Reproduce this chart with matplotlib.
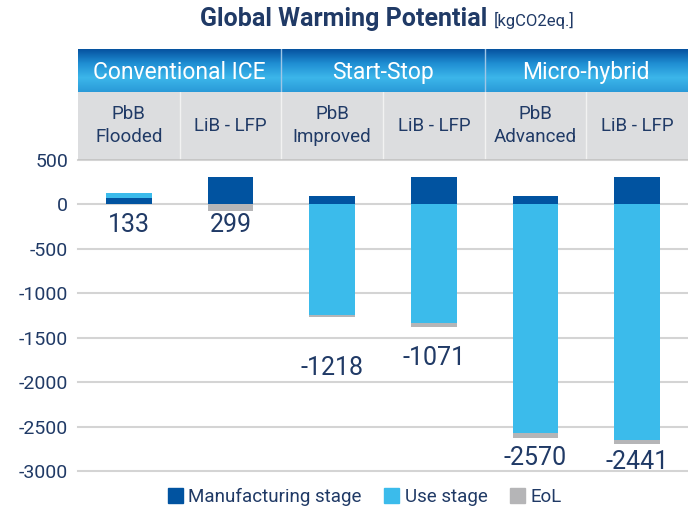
import numpy as np
from matplotlib import pyplot as plt
from matplotlib.colors import LinearSegmentedColormap
from matplotlib.patches import Patch

# donnees
groupes = ["Conventional ICE", "Start-Stop", "Micro-hybrid"]
batteries = ["PbB\nFlooded", "LiB - LFP", "PbB\nImproved", "LiB - LFP", "PbB\nAdvanced", "LiB - LFP"]
fabrication = [64, 306, 95, 306, 95, 306]
utilisation = [63, 0, -1240, -1334, -2575, -2650]
fin_de_vie = [-2, -75, -23, -41, -50, -45]
totaux = ["133", "299", "-1218", "-1071", "-2570", "-2441"]
y_etiquettes = [-236, -236, -1840, -1728, -2848, -2893]
graduations = [500, 0, -500, -1000, -1500, -2000, -2500, -3000]

c_fab = "#0153a0"
c_use = "#3bbbeb"
c_eol = "#b5b5b7"
navy = "#203a66"
plt.rcParams["font.family"] = ["Roboto", "DejaVu Sans"]

W, H = 688, 509
fig = plt.figure(figsize=(W / 100, H / 100), dpi=100)

gauche = 78 / W
haut_axes = 1 - 159.5 / H
bas_axes = 1 - 471.3 / H
ax = fig.add_axes([gauche, bas_axes, 1 - gauche, haut_axes - bas_axes])

x = np.arange(len(batteries))
fab = np.array(fabrication)
use = np.array(utilisation)
eol = np.array(fin_de_vie)

# empilement : positifs au dessus de zero, negatifs en dessous
bas_pos = np.zeros(len(x))
bas_neg = np.zeros(len(x))
for valeurs, couleur in [(fab, c_fab), (use, c_use), (eol, c_eol)]:
    bas = np.where(valeurs >= 0, bas_pos, bas_neg)
    ax.bar(x, valeurs, bottom=bas, width=0.45, color=couleur, zorder=3)
    bas_pos = bas_pos + np.where(valeurs >= 0, valeurs, 0)
    bas_neg = bas_neg + np.where(valeurs < 0, valeurs, 0)

for g in graduations:
    ax.axhline(g, color="#d4d4d4", lw=1.5, zorder=1, clip_on=False)

for i, t in enumerate(totaux):
    ax.text(x[i], y_etiquettes[i], t, ha="center", va="center", fontsize=18, color=navy)

ax.set_xlim(-0.5, 5.5)
ax.set_ylim(-3000, 500)
ax.set_yticks(graduations)
ax.set_yticklabels([str(g) for g in graduations], fontsize=14, color=navy)
ax.tick_params(axis="y", length=0, pad=7)
ax.set_xticks([])
for s in ax.spines.values():
    s.set_visible(False)

# en-tete : bandeau bleu + bandeau gris
haut_bleu = 1 - 49 / H
bas_bleu = 1 - 92 / H
axh = fig.add_axes([gauche, bas_bleu, 1 - gauche, haut_bleu - bas_bleu])
degrade = LinearSegmentedColormap.from_list("d", ["#0652a0", "#1f8ed3", "#3cb6ea", "#2a9ad8"])
axh.imshow(np.linspace(0, 1, 100).reshape(-1, 1), aspect="auto", cmap=degrade,
           extent=[0, 3, 0, 1], origin="upper")
for k in [1, 2]:
    axh.axvline(k, color="#9fc6e6", lw=1)
for k, nom in enumerate(groupes):
    axh.text(k + 0.5, 0.46, nom, ha="center", va="center", color="white", fontsize=16.5)
axh.set_xlim(0, 3)
axh.set_ylim(0, 1)
axh.axis("off")

axg = fig.add_axes([gauche, haut_axes, 1 - gauche, bas_bleu - haut_axes])
axg.set_facecolor("#dcdddf")
for k in range(1, 6):
    axg.axvline(k, color="#f2f2f2", lw=1)
axg.axhline(0, color="#c4c4c4", lw=2)
for k, nom in enumerate(batteries):
    axg.text(k + 0.5, 0.5, nom, ha="center", va="center", color=navy, fontsize=13.5,
             linespacing=1.35)
axg.set_xlim(0, 6)
axg.set_ylim(0, 1)
axg.set_xticks([])
axg.set_yticks([])
for s in axg.spines.values():
    s.set_visible(False)

# titre
fig.text(487 / W, 1 - 19 / H, "Global Warming Potential", ha="right", va="center",
         fontsize=18, fontweight="bold", color=navy)
fig.text(494 / W, 1 - 20 / H, "[kgCO2eq.]", ha="left", va="center", fontsize=12, color=navy)

# legende
poignees = [Patch(color=c_fab, label="Manufacturing stage"),
            Patch(color=c_use, label="Use stage"),
            Patch(color=c_eol, label="EoL")]
fig.legend(handles=poignees, loc="center", bbox_to_anchor=(365 / W, 1 - 497 / H), ncol=3,
           frameon=False, fontsize=13.5, handlelength=0.8, handleheight=0.8,
           handletextpad=0.3, columnspacing=1.2, labelcolor=navy)

fig.savefig("out.png", dpi=100)
